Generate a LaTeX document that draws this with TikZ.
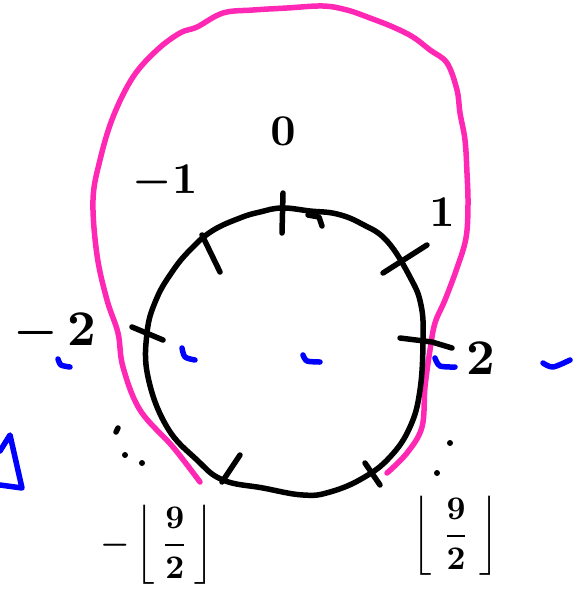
\documentclass[tikz,border=0pt]{standalone}
\usepackage{graphicx}
\usepackage{amsmath}
\newcommand{\szA}[1]{\scalebox{4.4}{\boldmath#1}}
\newcommand{\szB}[1]{\scalebox{5}{\boldmath#1}}
\newcommand{\szC}[1]{\scalebox{3.3}{\boldmath#1}}
\begin{document}
\begin{tikzpicture}[x=1pt,y=-1pt,
  ink/.style={line width=5.5pt,line cap=round,line join=round},
  blk/.style={ink,black},
  pnk/.style={ink,color=pinkc},
  blu/.style={ink,color=bluec},
  lbl/.style={inner sep=0pt}]
\definecolor{pinkc}{RGB}{255,40,180}
\definecolor{bluec}{RGB}{0,0,255}
\useasboundingbox (0,0) rectangle (577,590);
% pink outline
\draw[pnk] plot[smooth,tension=0.6] coordinates {(200,482) (173,447) (140,410) (123,367) (118,333) (107,300) (97,255) (93,200) (100,160) (113,117) (133,77) (157,50) (180,33) (197,27) (223,13) (253,10) (287,8) (323,6) (347,10) (370,18) (393,27) (413,37) (430,50) (447,63) (457,90) (460,113) (465,140) (467,173) (468,205) (466,238) (457,268) (445,300) (435,323) (430,350) (425,387) (422,427) (407,453) (387,473)};
% black circle
\draw[blk] plot[smooth cycle,tension=0.7] coordinates {(282,208) (310,211) (337,214) (362,224) (387,241) (410,277) (421,305) (423,340) (420,390) (410,427) (390,457) (363,478) (330,492) (303,495) (263,488) (223,480) (197,460) (167,427) (148,377) (147,333) (156,300) (172,272) (190,250) (212,231) (240,218) (260,212)};
% ticks
\draw[blk] (283,193) -- (282,233);
\draw[blk] (308,215) -- (319,217) -- (322,226);
\draw[blk] (202,235) -- (220,272);
\draw[blk] (427,245) -- (383,273);
\draw[blk] (132,327) -- (163,340);
\draw[blk] (400,338) -- (432,342) -- (452,348);
\draw[blk] (240,455) -- (222,482);
\draw[blk] (365,463) -- (380,485);
% dots
\draw[blk] (116,432) -- (118,428);
\fill (125,455) circle (3pt);
\fill (142,463) circle (3pt);
\fill (450,443) circle (3pt);
\fill (437,473) circle (3pt);
% blue marks
\draw[blu] plot[smooth] coordinates {(58,359) (61,365) (70,367)};
\draw[blu] plot[smooth] coordinates {(182,348) (185,357) (195,360)};
\draw[blu] plot[smooth] coordinates {(303,355) (307,361) (320,362)};
\draw[blu] plot[smooth] coordinates {(435,358) (440,366) (455,367)};
\draw[blu] plot[smooth] coordinates {(543,363) (553,367) (570,360)};
\draw[blu] (0,451) -- (10,435) -- (22,488) -- (0,485);
% labels
\node[lbl] (l0) at (283,131) {\szA{$0$}};
\node[lbl] (lm1) at (165,182) {\szA{$-1$}};
\node[lbl] (l1) at (442,212) {\szA{$1$}};
\node[lbl] (lm2) at (55,333) {\szB{$-\,2$}};
\node[lbl] (l2) at (481,358) {\szB{$2$}};
\node[lbl] (lf1) at (157,545) {\szC{$-\left\lfloor\,\dfrac{9}{2}\,\right\rfloor$}};
\node[lbl] (lf2) at (456,536) {\szC{$\left\lfloor\;\dfrac{9}{2}\;\right\rfloor$}};
\end{tikzpicture}
\end{document}
